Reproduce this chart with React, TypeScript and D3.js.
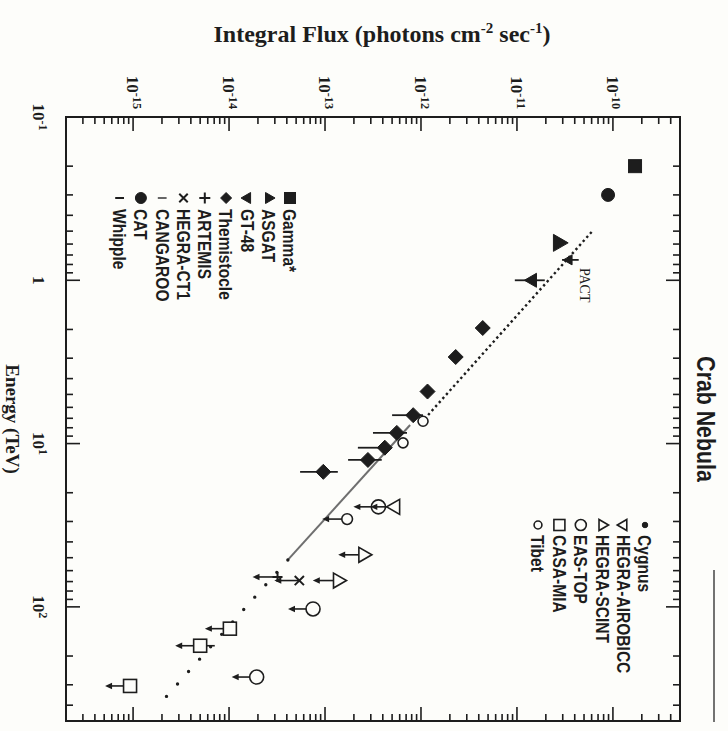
import React from "react";
import * as d3 from "d3";

// Axes: energy threshold (TeV) vs integral flux (photons cm^-2 s^-1)
const energyDomain = [0.1, 500];
const fluxDomain = [2e-16, 5e-10];
const energyLabels = [0.1, 1, 10, 100];
const fluxLabels = [1e-15, 1e-14, 1e-13, 1e-12, 1e-11, 1e-10];

// Measurements: [energy, flux] or [energy, flux, fluxLow, fluxHigh]
const gammaPts = [[0.2, 1.7e-10]];
const catPts = [[0.3, 8.9e-11]];
const asgatPts = [[0.59, 2.7e-11]];
const gt48Pts = [[1.0, 1.45e-11, 9.5e-12, 1.95e-11]];
const pactPts = [[0.75, 3.5e-11, 2.95e-11, 4.4e-11]];
const themistoclePts = [
  [1.96, 4.4e-12],
  [2.95, 2.3e-12],
  [4.8, 1.17e-12],
  [6.7, 8.3e-13, 5.0e-13, 1.05e-12],
  [8.6, 5.6e-13, 3.16e-13, 7.15e-13],
  [10.6, 4.2e-13, 2.2e-13, 4.5e-13],
  [12.6, 2.8e-13, 1.74e-13, 3.9e-13],
  [14.9, 9.6e-14, 5.5e-14, 1.36e-13],
];
const tibetPts = [[7.3, 1.05e-12], [9.9, 6.5e-13]];

// Upper limits: [energy, flux] (optionally a flux error toward higher flux)
const easTopUL = [[24.4, 3.6e-13], [103, 7.5e-14], [269, 1.94e-14]];
const airobiccUL = [[24.4, 5.4e-13]];
const tibetUL = [[29, 1.7e-13]];
const scintUL = [[48, 2.5e-13], [69, 1.36e-13]];
const ct1UL = [[69, 5.4e-14]];
const artemisUL = [[65.6, 3.2e-14]];
const casaUL = [[136, 1.02e-14], [173, 5.0e-15, 7.1e-15], [305, 9.3e-16]];

// Power-law fits (end points)
const whippleFit = [[0.506, 6.0e-11], [7.38, 1.02e-12]];
const cangarooFit = [[7.7, 7.7e-13], [51.6, 4.1e-14]];
const extrapolationFit = [[51.6, 4.1e-14], [410, 1.78e-15]];

// Legends
const legendLeftNames = ["Gamma*", "ASGAT", "GT-48", "Themistocle", "ARTEMIS", "HEGRA-CT1", "CANGAROO", "CAT", "Whipple"];
const legendLeftMarks = ["square", "triUp", "triDown", "diamond", "plus", "cross", "lineSolid", "circle", "lineDash"];
const legendRightNames = ["Cygnus", "HEGRA-AIROBICC", "HEGRA-SCINT", "EAS-TOP", "CASA-MIA", "Tibet"];
const legendRightMarks = ["dot", "oTriDown", "oTriUp", "oCircle", "oSquare", "oSmallCircle"];

const W = 604;
const H = 614;
const OX = 680;
const OY = 117;
const ink = "#1d1d1d";
const paper = "#fdfdfa";
const serif = "'Liberation Serif', 'DejaVu Serif', 'Times New Roman', serif";
const sans = "'Liberation Sans', Arial, 'DejaVu Sans', sans-serif";

const xE = d3.scaleLog().domain(energyDomain).range([0, W]);
const yF = d3.scaleLog().domain(fluxDomain).range([H, 0]);
const line = d3
  .line<number[]>()
  .x((d) => xE(d[0]))
  .y((d) => yF(d[1]));

function tri(s: number, dir: number) {
  const h = s * 0.577;
  const b = s * 0.289;
  return `M0,${-h * dir}L${s / 2},${b * dir}L${-s / 2},${b * dir}Z`;
}

function Mark({ kind, x, y, s }: { kind: string; x: number; y: number; s: number }) {
  const t = `translate(${x},${y})`;
  const open = { fill: paper, stroke: ink, strokeWidth: 1.6 };
  const solid = { fill: ink, stroke: ink, strokeWidth: 1 };
  switch (kind) {
    case "square":
      return <rect transform={t} x={-s / 2} y={-s / 2} width={s} height={s} {...solid} />;
    case "oSquare":
      return <rect transform={t} x={-s / 2} y={-s / 2} width={s} height={s} {...open} />;
    case "circle":
      return <circle transform={t} r={s / 2} {...solid} />;
    case "oCircle":
      return <circle transform={t} r={s / 2} {...open} />;
    case "oSmallCircle":
      return <circle transform={t} r={s / 2.8} {...open} />;
    case "dot":
      return <circle transform={t} r={s / 4} {...solid} />;
    case "triUp":
      return <path transform={t} d={tri(s, 1)} {...solid} />;
    case "triDown":
      return <path transform={t} d={tri(s, -1)} {...solid} />;
    case "oTriUp":
      return <path transform={t} d={tri(s, 1)} {...open} />;
    case "oTriDown":
      return <path transform={t} d={tri(s, -1)} {...open} />;
    case "diamond": {
      const a = s / 2;
      return <path transform={t} d={`M0,${-a}L${a},0L0,${a}L${-a},0Z`} {...solid} />;
    }
    case "plus": {
      const a = s / 2;
      return <path transform={t} d={`M${-a},0H${a}M0,${-a}V${a}`} stroke={ink} strokeWidth={2} fill="none" />;
    }
    case "cross": {
      const a = s / 2.6;
      return <path transform={t} d={`M${-a},${-a}L${a},${a}M${-a},${a}L${a},${-a}`} stroke={ink} strokeWidth={2} fill="none" />;
    }
    case "lineSolid":
      return <path transform={t} d={`M0,${-s / 2.5}V${s / 2.5}`} stroke="#666" strokeWidth={2} />;
    case "lineDash":
      return <path transform={t} d={`M0,${-s / 2.5}V${s / 2.5}`} stroke={ink} strokeWidth={2} />;
    default:
      return null;
  }
}

// Error bar along the flux direction
function FluxBar({ d }: { d: number[] }) {
  if (d.length < 4) return null;
  const x = xE(d[0]);
  return <line x1={x} x2={x} y1={yF(d[2])} y2={yF(d[3])} stroke={ink} strokeWidth={1.8} />;
}

// Upper-limit arrow pointing toward lower flux
function Limit({ d, kind, s }: { d: number[]; kind: string; s: number }) {
  const x = xE(d[0]);
  const y = yF(d[1]);
  const len = 25;
  const tip = y + len;
  return (
    <g>
      {d.length > 2 && <line x1={x} x2={x} y1={y} y2={yF(d[2])} stroke={ink} strokeWidth={1.6} />}
      <line x1={x} x2={x} y1={y} y2={tip - 3} stroke={ink} strokeWidth={1.6} />
      <path d={`M${x},${tip}L${x - 3.2},${tip - 7}L${x + 3.2},${tip - 7}Z`} fill={ink} />
      <Mark kind={kind} x={x} y={y} s={s} />
    </g>
  );
}

function Pow({ v }: { v: number }) {
  const e = Math.round(Math.log10(v));
  if (e === 0) return <>1</>;
  return (
    <>
      10
      <tspan dy="-0.45em" fontSize="0.72em">
        {e}
      </tspan>
    </>
  );
}

export default function App() {
  const eTicks = xE.ticks();
  const fTicks = yF.ticks();
  const isMajor = (v: number) => Math.abs(Math.log10(v) - Math.round(Math.log10(v))) < 1e-6;
  const maj = 14;
  const min = 7;

  const pts = (arr: number[][], kind: string, s: number) =>
    arr.map((d, i) => (
      <g key={kind + i}>
        <FluxBar d={d} />
        <Mark kind={kind} x={xE(d[0])} y={yF(d[1])} s={s} />
      </g>
    ));
  const uls = (arr: number[][], kind: string, s: number) =>
    arr.map((d, i) => <Limit key={kind + i} d={d} kind={kind} s={s} />);

  return (
    <svg
      width={728}
      height={731}
      style={{ position: "absolute", left: 0, top: 0, background: paper }}
      fontFamily={serif}
    >
      <rect width={728} height={731} fill={paper} />

      {/* flux axis title (horizontal on the page) */}
      <text x={382} y={42} textAnchor="middle" fontSize={24} fontWeight="bold" fill={ink}>
        Integral Flux (photons cm
        <tspan dy={-9} fontSize={15}>
          -2
        </tspan>
        <tspan dy={9}> sec</tspan>
        <tspan dy={-9} fontSize={15}>
          -1
        </tspan>
        <tspan dy={9}>)</tspan>
      </text>

      <g transform={`translate(${OX},${OY}) rotate(90)`}>
        {/* frame */}
        <rect x={0} y={0} width={W} height={H} fill="none" stroke={ink} strokeWidth={2} />

        {/* energy ticks: bottom and top */}
        {eTicks.map((t, i) => {
          const x = xE(t);
          const l = isMajor(t) ? maj : min;
          return (
            <g key={"e" + i} stroke={ink} strokeWidth={1.6}>
              <line x1={x} x2={x} y1={H} y2={H - l} />
              <line x1={x} x2={x} y1={0} y2={l} />
            </g>
          );
        })}
        {/* flux ticks: left and right */}
        {fTicks.map((t, i) => {
          const y = yF(t);
          const l = isMajor(t) ? maj : min;
          return (
            <g key={"f" + i} stroke={ink} strokeWidth={1.6}>
              <line x1={0} x2={l} y1={y} y2={y} />
              <line x1={W} x2={W - l} y1={y} y2={y} />
            </g>
          );
        })}

        {/* tick labels */}
        {energyLabels.map((t, i) => (
          <text key={"el" + i} x={xE(t)} y={H + 33} textAnchor="middle" fontSize={17} fontWeight="bold" fill={ink}>
            <Pow v={t} />
          </text>
        ))}
        {fluxLabels.map((t, i) => (
          <text key={"fl" + i} x={-8} y={yF(t)} dy="0.35em" textAnchor="end" fontSize={17} fontWeight="bold" fill={ink}>
            <Pow v={t} />
          </text>
        ))}

        <text x={W / 2} y={H + 60} textAnchor="middle" fontSize={19} fontWeight="bold" fill={ink}>
          Energy (TeV)
        </text>
        <g transform={`translate(${W / 2},-17) scale(0.82,1)`}>
          <text textAnchor="middle" fontSize={26} fontWeight="bold" fontFamily={sans} fill={ink}>
            Crab Nebula
          </text>
        </g>

        {/* fitted spectra */}
        <path d={line(whippleFit) || ""} fill="none" stroke={ink} strokeWidth={2.4} strokeDasharray="2.4 3" />
        <path d={line(cangarooFit) || ""} fill="none" stroke="#6f6f6f" strokeWidth={2} />
        <path
          d={line(extrapolationFit) || ""}
          fill="none"
          stroke={ink}
          strokeWidth={3.4}
          strokeLinecap="round"
          strokeDasharray="0 16.6"
        />

        {/* measurements */}
        {pts(gammaPts, "square", 13)}
        {pts(catPts, "circle", 13)}
        {pts(asgatPts, "triUp", 17)}
        {pts(pactPts, "triDown", 10)}
        {pts(gt48Pts, "triDown", 14)}
        {pts(themistoclePts, "diamond", 15)}
        {pts(tibetPts, "oSmallCircle", 14)}

        {uls(easTopUL, "oCircle", 14)}
        {uls(airobiccUL, "oTriDown", 15)}
        {uls(tibetUL, "oSmallCircle", 15)}
        {uls(scintUL, "oTriUp", 15)}
        {uls(ct1UL, "cross", 12)}
        {uls(artemisUL, "plus", 10)}
        {uls(casaUL, "oSquare", 13)}

        <text x={151} y={100} fontSize={14} fill={ink}>
          PACT
        </text>

        {/* legends */}
        {legendLeftNames.map((n, i) => {
          const ry = 390 + 21.3 * i;
          return (
            <g key={"ll" + i}>
              <Mark kind={legendLeftMarks[i]} x={81} y={ry} s={11} />
              <g transform={`translate(92,${ry}) scale(0.82,1)`}>
                <text dy="0.35em" fontSize={19} fontWeight="bold" fontFamily={sans} fill={ink}>
                  {n}
                </text>
              </g>
            </g>
          );
        })}
        {legendRightNames.map((n, i) => {
          const ry = 35 + 21.4 * i;
          return (
            <g key={"lr" + i}>
              <Mark kind={legendRightMarks[i]} x={408} y={ry} s={11} />
              <g transform={`translate(418,${ry}) scale(0.82,1)`}>
                <text dy="0.35em" fontSize={19} fontWeight="bold" fontFamily={sans} fill={ink}>
                  {n}
                </text>
              </g>
            </g>
          );
        })}
      </g>

      {/* page edge line */}
      <line x1={714} x2={714} y1={570} y2={722} stroke="#444" strokeWidth={1.5} />
    </svg>
  );
}
